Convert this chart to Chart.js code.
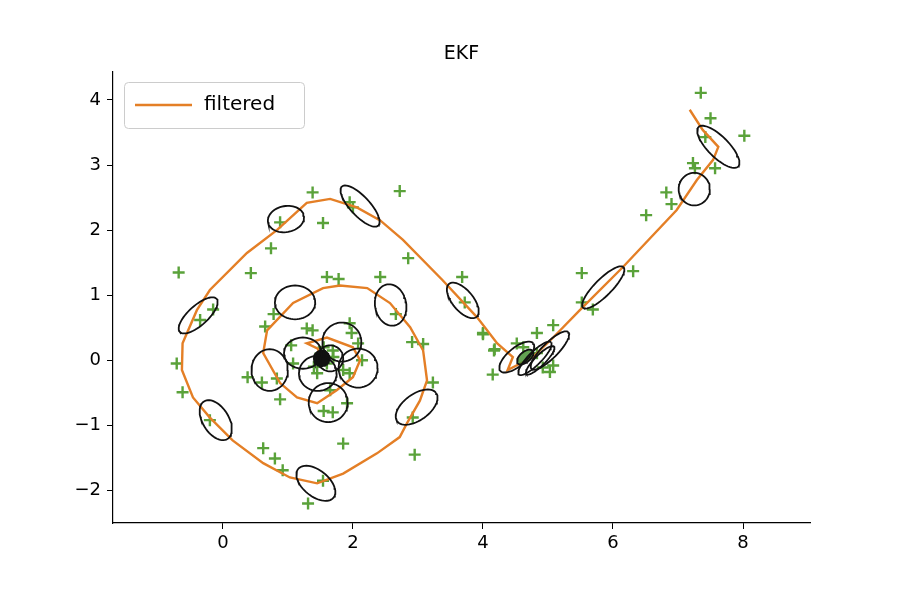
<!DOCTYPE html>
<html><head><meta charset="utf-8">
<script src="https://cdn.jsdelivr.net/npm/chart.js@4"></script>
<style>body{margin:0;background:#fff}canvas{display:block}</style>
</head><body>
<canvas id="c" width="900" height="600"></canvas>
<script>
const filteredX=[1.52,1.46,1.29,1.60,2.00,2.11,2.00,1.75,1.45,1.14,0.88,0.62,0.68,1.08,1.54,1.80,2.22,2.57,2.88,3.08,3.14,3.03,2.83,2.72,2.37,1.85,1.45,1.03,0.62,0.15,-0.20,-0.46,-0.63,-0.62,-0.40,-0.20,0.37,0.83,1.29,1.65,2.06,2.42,2.77,3.38,3.91,4.22,4.46,4.38,4.77,5.08,5.49,6.15,6.98,7.29,7.54,7.62,7.38,7.18];
const filteredY=[0.03,0.18,0.26,0.35,0.20,0.00,-0.26,-0.46,-0.66,-0.57,-0.35,0.11,0.46,0.88,1.11,1.15,1.11,0.88,0.51,0.15,-0.31,-0.62,-0.97,-1.18,-1.43,-1.74,-1.89,-1.80,-1.58,-1.23,-0.88,-0.57,-0.15,0.26,0.77,1.08,1.65,2.00,2.42,2.48,2.35,2.15,1.85,1.23,0.66,0.26,0.05,-0.15,0.05,0.35,0.77,1.43,2.31,2.77,3.08,3.28,3.54,3.85];
const measX=[1.38,2.72,1.95,2.0,0.88,1.54,0.74,-0.68,0.43,1.6,1.78,2.42,2.85,3.68,3.72,4.0,4.17,4.15,-0.15,-0.35,0.78,0.65,2.66,2.91,3.08,3.23,-0.71,-0.62,0.38,0.6,0.88,0.83,1.05,1.29,1.38,1.08,1.95,1.98,2.08,2.14,1.95,1.85,1.69,1.65,1.45,1.91,1.55,1.69,-0.2,2.92,1.85,2.95,0.62,0.8,0.92,1.54,1.31,1.5,1.6,1.4,1.55,1.7,7.35,7.5,8.02,7.42,7.23,7.26,7.57,6.82,6.9,6.51,5.52,6.31,5.52,5.69,4.0,4.18,4.83,5.08,4.52,4.62,4.92,5.08,5.03,4.83];
const measY=[2.58,2.6,2.43,2.35,2.12,2.11,1.72,1.35,1.34,1.28,1.25,1.28,1.57,1.28,0.89,0.42,0.15,-0.22,0.78,0.62,0.71,0.52,0.71,0.28,0.25,-0.34,-0.05,-0.49,-0.26,-0.34,-0.6,-0.28,0.23,0.49,0.46,-0.05,0.57,0.42,0.26,0,-0.2,-0.15,0.15,-0.46,-0.2,-0.66,-0.78,-0.8,-0.92,-0.88,-1.28,-1.45,-1.35,-1.51,-1.69,-1.85,-2.2,0.1,-0.05,-0.1,0.2,0.05,4.11,3.72,3.45,3.43,3.03,2.95,2.95,2.58,2.4,2.23,1.34,1.37,0.89,0.78,0.4,0.17,0.42,0.54,0.26,0.2,-0.11,-0.08,-0.18,0.11];
// covariance ellipses: centre, semi-axes, angle (deg)
const ellCX=[0.97,2.11,1.11,2.58,3.69,-0.38,-0.11,2.98,1.43,0.72,1.23,1.83,2.08,1.62,1.46,1.65,1.52,1.52,1.52,1.52,7.62,7.25,5.85,4.52,4.8,5.03,4.88,4.65];
const ellCY=[2.17,2.37,0.89,0.85,0.92,0.69,-0.92,-0.72,-1.89,-0.15,0.11,0.28,-0.12,-0.65,-0.2,0.03,0.03,0.03,0.03,0.03,3.28,2.63,1.12,0.05,0.03,0.15,0.0,0.05];
const ellA=[0.28,0.41,0.31,0.32,0.33,0.38,0.34,0.37,0.35,0.28,0.29,0.3,0.3,0.3,0.29,0.2,0.12,0.09,0.06,0.04,0.43,0.24,0.44,0.33,0.35,0.4,0.3,0.15];
const ellB=[0.2,0.15,0.26,0.24,0.16,0.15,0.2,0.2,0.2,0.32,0.24,0.3,0.3,0.3,0.27,0.2,0.12,0.09,0.06,0.04,0.16,0.25,0.13,0.14,0.1,0.12,0.08,0.08];
const ellAng=[10,-47,0,100,-50,42,-58,36,-39,0,0,0,0,0,0,0,0,0,0,0,-45,0,45,40,45,45,45,40];
const ellFill=[0,0,0,0,0,0,0,0,0,0,0,0,0,0,0,0,1,0,0,0,0,0,0,0,0,0,0,1];
const xTicks=[0,2,4,6,8], yTicks=[-2,-1,0,1,2,3,4];

const datasets=[{label:'filtered',data:filteredX.map((x,i)=>({x,y:filteredY[i]})),showLine:true,borderColor:'#e47f26',borderWidth:2.4,pointRadius:0,order:1}];
datasets.push({label:'meas',data:measX.map((x,i)=>({x,y:measY[i]})),showLine:false,pointStyle:'cross',pointRadius:6,borderColor:'#5aa23a',borderWidth:2.4,backgroundColor:'#5aa23a',order:2});
ellCX.forEach((cx,k)=>{
  const pts=[],p=ellAng[k]*Math.PI/180;
  for(let t=0;t<=360;t+=6){const th=t*Math.PI/180;const u=ellA[k]*Math.cos(th),v=ellB[k]*Math.sin(th);
    pts.push({x:cx+u*Math.cos(p)-v*Math.sin(p),y:ellCY[k]+u*Math.sin(p)+v*Math.cos(p)});}
  datasets.push({label:'ell',data:pts,showLine:true,borderColor:'#111',borderWidth:1.8,pointRadius:0,order:0,tension:0,
    fill:ellFill[k]?'shape':false,backgroundColor:k===27?'rgba(60,140,40,0.8)':'#111'});
});
const fnt={family:'DejaVu Sans',size:18};
const fmt=v=>v<0?'\u2212'+Math.abs(v):''+v;
const deco={id:'deco',afterDraw(ch){const c=ch.ctx;c.save();
  c.fillStyle='#000';c.font='19px DejaVu Sans';c.textAlign='center';c.textBaseline='alphabetic';
  c.fillText('EKF',(ch.chartArea.left+ch.chartArea.right)/2,59);
  c.fillStyle='#fff';c.strokeStyle='#ccc';c.lineWidth=1;
  const bx=124,by=82,bw=180,bh=46;c.beginPath();c.roundRect(bx+.5,by+.5,bw,bh,4);c.fill();c.stroke();
  c.strokeStyle='#e47f26';c.lineWidth=2.4;c.beginPath();c.moveTo(135,105);c.lineTo(192,105);c.stroke();
  c.fillStyle='#000';c.font='20px DejaVu Sans';c.textAlign='left';c.textBaseline='middle';c.fillText('filtered',204,105);
  c.restore();}};
new Chart(document.getElementById('c'),{type:'scatter',data:{datasets},
 options:{responsive:false,animation:false,layout:{padding:{top:72,right:90,left:0,bottom:0}},
  plugins:{legend:{display:false},tooltip:{enabled:false},title:{display:false},filler:{propagate:false}},
  scales:{
   x:{type:'linear',min:-1.69,max:9.03,afterBuildTicks:s=>{s.ticks=xTicks.map(v=>({value:v}))},afterFit:s=>{s.height=77},
      ticks:{font:fnt,color:'#000',callback:fmt,padding:4,maxRotation:0},grid:{drawOnChartArea:false,tickLength:6,color:'#000'},border:{color:'#000',width:1.2}},
   y:{type:'linear',min:-2.5,max:4.43,afterBuildTicks:s=>{s.ticks=yTicks.map(v=>({value:v}))},afterFit:s=>{s.width=113},
      ticks:{font:fnt,color:'#000',callback:fmt,padding:6},grid:{drawOnChartArea:false,tickLength:6,color:'#000'},border:{color:'#000',width:1.2}}
  }},plugins:[deco]});
</script></body></html>
